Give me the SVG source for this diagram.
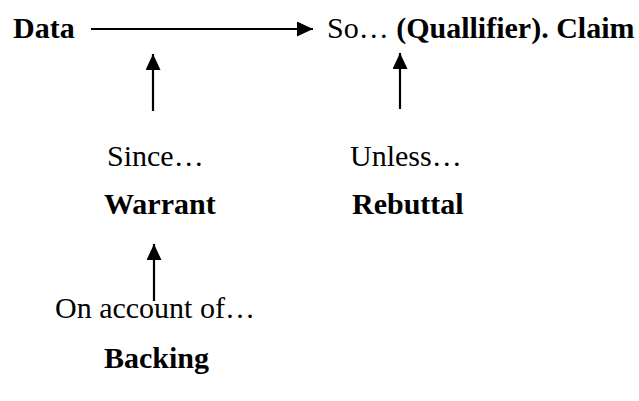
<svg xmlns="http://www.w3.org/2000/svg" width="639" height="401" viewBox="0 0 639 401">
<style>
text{font-family:'Liberation Serif','Times New Roman',Times,serif;font-size:30px;fill:#000}
.b{font-weight:bold}
.c{stroke:#000;stroke-width:2.2;fill:none}
</style>
<defs>
<marker id="ah" markerUnits="userSpaceOnUse" markerWidth="18" markerHeight="16" refX="16" refY="7.5" orient="auto">
<path d="M0,0 L16,7.5 L0,15 Z" fill="#000"/>
</marker>
</defs>
<rect width="639" height="401" fill="#fff"/>
<g id="connectors">
<line class="c" x1="91" y1="29" x2="313" y2="29" marker-end="url(#ah)"/>
<line class="c" x1="153" y1="111" x2="153" y2="54" marker-end="url(#ah)"/>
<line class="c" x1="400" y1="109" x2="400" y2="53" marker-end="url(#ah)"/>
<line class="c" x1="154" y1="301" x2="154" y2="244" marker-end="url(#ah)"/>
</g>
<g id="data"><text class="b" x="13" y="38">Data</text></g>
<g id="claim"><text x="327" y="38">So… <tspan class="b">(Quallifier). Claim</tspan></text></g>
<g id="warrant"><text x="107" y="166">Since…</text><text class="b" x="104" y="214">Warrant</text></g>
<g id="rebuttal"><text x="350" y="166">Unless…</text><text class="b" x="352" y="214">Rebuttal</text></g>
<g id="backing"><text x="55" y="318">On account of…</text><text class="b" x="104" y="368">Backing</text></g>
</svg>
